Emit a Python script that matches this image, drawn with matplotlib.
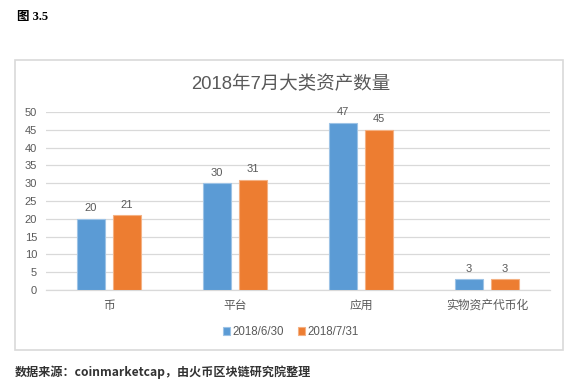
import numpy as np
import matplotlib
matplotlib.use("Agg")
import matplotlib.pyplot as plt
from matplotlib.patches import Rectangle

plt.rcParams['font.family'] = ['Liberation Sans', 'Noto Sans CJK SC', 'DejaVu Sans']

# ======= data =======
categories = ["币", "平台", "应用", "实物资产代币化"]
series_names = ["2018/6/30", "2018/7/31"]
jun_values = [20, 30, 47, 3]
jul_values = [21, 31, 45, 3]
y_ticks = [0, 5, 10, 15, 20, 25, 30, 35, 40, 45, 50]

colors = ["#5B9BD5", "#ED7D31"]
edges = ["#9DC3E6", "#F4B183"]
text_color = "#595959"
grid_color = "#D9D9D9"

W, H = 577, 382
fig = plt.figure(figsize=(W / 100, H / 100), dpi=100)

# chart frame
fig.patches.append(Rectangle((15 / W, 1 - 350 / H), (563 - 15) / W, (350 - 60) / H,
                             transform=fig.transFigure, fill=False,
                             edgecolor=grid_color, linewidth=1.2))

ax = fig.add_axes([46 / W, 1 - 290 / H, (550 - 46) / W, (290 - 112) / H])
x = np.arange(len(categories))
bw = 0.222
off = 0.143

for i, (vals, name) in enumerate(zip([jun_values, jul_values], series_names)):
    pos = x - off if i == 0 else x + off
    bars = ax.bar(pos, vals, width=bw, color=colors[i], edgecolor=edges[i],
                  linewidth=0.8, label=name, zorder=3)
    for b, v in zip(bars, vals):
        ax.text(b.get_x() + b.get_width() / 2, v + 1.6, str(v), ha="center",
                va="bottom", fontsize=8, color=text_color)

ax.set_xlim(-0.5, len(categories) - 0.5)
ax.set_ylim(0, 50)
ax.set_yticks(y_ticks)
ax.set_xticks(x)
ax.set_xticklabels(categories, fontsize=8.5, color=text_color)
ax.tick_params(axis="y", labelsize=8, labelcolor=text_color, length=0, pad=6.5)
ax.tick_params(axis="x", length=0, pad=7)
ax.grid(axis="y", color=grid_color, linewidth=0.9, zorder=0)
for s in ["top", "right", "left"]:
    ax.spines[s].set_visible(False)
ax.spines["bottom"].set_color(grid_color)
ax.spines["bottom"].set_linewidth(0.9)

fig.text(291 / W, 1 - 84 / H, "2018年7月大类资产数量", ha="center", va="center",
         fontsize=13.3, color=text_color)

fig.legend(loc="center", bbox_to_anchor=(291 / W, 1 - 332 / H), ncol=2,
           frameon=False, fontsize=8.3, handlelength=0.6, handleheight=0.6,
           handletextpad=0.2, columnspacing=1.2, labelcolor=text_color)

fig.text(17 / W, 1 - 17 / H, "图 3.5", ha="left", va="center", fontsize=9,
         fontweight="bold", family=["Liberation Serif", "Noto Sans CJK SC"])
fig.text(15 / W, 1 - 372 / H, "数据来源：coinmarketcap，由火币区块链研究院整理",
         ha="left", va="center", fontsize=8.7, fontweight="bold", color="#333333",
         family=["Noto Sans CJK SC", "DejaVu Sans"])

fig.savefig("out.png", dpi=100)
